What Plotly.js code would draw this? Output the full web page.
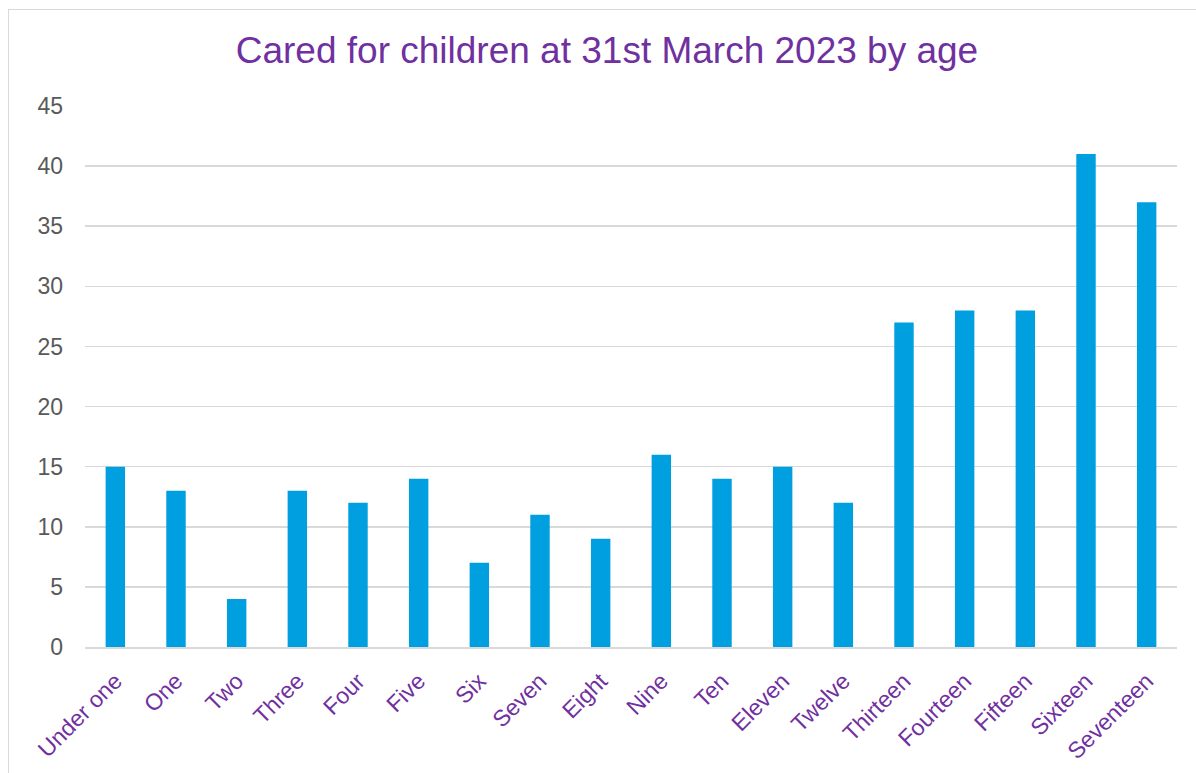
<!DOCTYPE html>
<html>
<head>
<meta charset="utf-8">
<script src="https://cdn.plot.ly/plotly-3.0.1.min.js"></script>
<style>
  html, body { margin: 0; padding: 0; overflow: hidden; background: #fff; }
  #chart { position: absolute; left: 0; top: 0; width: 1196px; height: 773px; }
  #frame { position: absolute; left: 8px; top: 9px; width: 1400px; height: 1000px; border: 1.5px solid #d9d9d9; pointer-events: none; }
</style>
</head>
<body>
<div id="chart"></div>
<div id="frame"></div>
<script>
const ageCategories = ["Under one", "One", "Two", "Three", "Four", "Five", "Six", "Seven", "Eight", "Nine", "Ten", "Eleven", "Twelve", "Thirteen", "Fourteen", "Fifteen", "Sixteen", "Seventeen"];
const childCounts = [15, 13, 4, 13, 12, 14, 7, 11, 9, 16, 14, 15, 12, 27, 28, 28, 41, 37];
const yTicks = [0, 5, 10, 15, 20, 25, 30, 35, 40, 45];

const trace = {
  type: "bar",
  x: ageCategories,
  y: childCounts,
  marker: { color: "#009FDF" },
  hoverinfo: "x+y"
};

const layout = {
  width: 1196,
  height: 773,
  margin: { l: 85, r: 19, t: 106, b: 126 },
  paper_bgcolor: "rgba(0,0,0,0)",
  plot_bgcolor: "rgba(0,0,0,0)",
  bargap: 0.68,
  showlegend: false,
  font: { family: "Liberation Sans, Arial, sans-serif" },
  title: {
    text: "Cared for children at 31st March 2023 by age",
    font: { family: "Liberation Sans, Arial, sans-serif", size: 37, color: "#7030A0" },
    x: 0.5075, xanchor: "center",
    y: 0.935, yanchor: "middle"
  },
  xaxis: {
    type: "category",
    tickangle: -45,
    tickfont: { size: 23, color: "#7030A0" },
    showline: true,
    linecolor: "#d9d9d9",
    linewidth: 1.5,
    ticks: "",
    showgrid: false,
    ticklabelstandoff: 10,
    automargin: false
  },
  yaxis: {
    range: [0, 45],
    tickvals: yTicks,
    tickfont: { size: 23, color: "#595959" },
    showgrid: true,
    gridcolor: "#d9d9d9",
    gridwidth: 1.5,
    zeroline: false,
    showline: false,
    ticks: "",
    ticklabelstandoff: 21,
    automargin: false
  }
};

Plotly.newPlot("chart", [trace], layout, { displayModeBar: false, staticPlot: true });
</script>
</body>
</html>
